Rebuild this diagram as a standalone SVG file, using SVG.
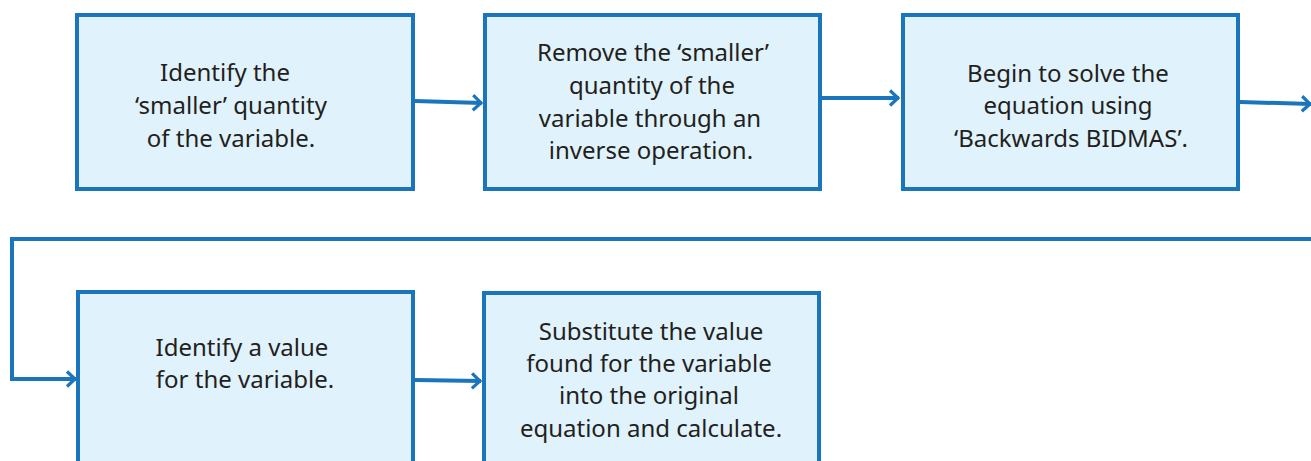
<svg xmlns="http://www.w3.org/2000/svg" width="1311" height="461" viewBox="0 0 1311 461">
<style>
.box{fill:#e0f2fb;stroke:#1a75bc;stroke-width:4}
.t{font-family:"Noto Sans","Open Sans",sans-serif;font-size:24px;fill:#231f20;text-anchor:middle}
.c{fill:none;stroke:#1a75bc;stroke-width:4;stroke-linejoin:miter}
</style>
<defs>
<marker id="ah" viewBox="0 0 14 18" refX="13" refY="9" markerWidth="14" markerHeight="18" markerUnits="userSpaceOnUse" orient="auto">
<path d="M4,1.5 L12,9 L4,16.5" fill="none" stroke="#1a75bc" stroke-width="3.2"/>
</marker>
</defs>
<rect width="1311" height="461" fill="#fff"/>
<g id="connectors">
<path class="c" d="M415,101 L482,103" marker-end="url(#ah)"/>
<path class="c" d="M822,98 L899,98" marker-end="url(#ah)"/>
<path class="c" d="M1240,102 L1311,104" marker-end="url(#ah)"/>
<path class="c" d="M1311,239 L12,239 L12,379 L76,379" marker-end="url(#ah)"/>
<path class="c" d="M415,380 L481,381" marker-end="url(#ah)"/>
</g>
<g id="n1">
<rect class="box" x="77" y="15" width="336" height="174"/>
<text class="t"><tspan x="225" y="81">Identify the</tspan><tspan x="231" y="114">‘smaller’ quantity</tspan><tspan x="231" y="147">of the variable.</tspan></text>
</g>
<g id="n2">
<rect class="box" x="485" y="15" width="335" height="174"/>
<text class="t"><tspan x="653" y="61">Remove the ‘smaller’</tspan><tspan x="652" y="94">quantity of the</tspan><tspan x="650" y="127">variable through an</tspan><tspan x="651" y="159">inverse operation.</tspan></text>
</g>
<g id="n3">
<rect class="box" x="903" y="15" width="335" height="174"/>
<text class="t"><tspan x="1068" y="82">Begin to solve the</tspan><tspan x="1068" y="114">equation using</tspan><tspan x="1071" y="147">‘Backwards BIDMAS’.</tspan></text>
</g>
<g id="n4">
<rect class="box" x="78" y="292" width="335" height="180"/>
<text class="t"><tspan x="242" y="356">Identify a value</tspan><tspan x="245" y="388">for the variable.</tspan></text>
</g>
<g id="n5">
<rect class="box" x="484" y="293" width="335" height="180"/>
<text class="t"><tspan x="651" y="340">Substitute the value</tspan><tspan x="649" y="372">found for the variable</tspan><tspan x="649" y="404">into the original</tspan><tspan x="651" y="437">equation and calculate.</tspan></text>
</g>
</svg>
